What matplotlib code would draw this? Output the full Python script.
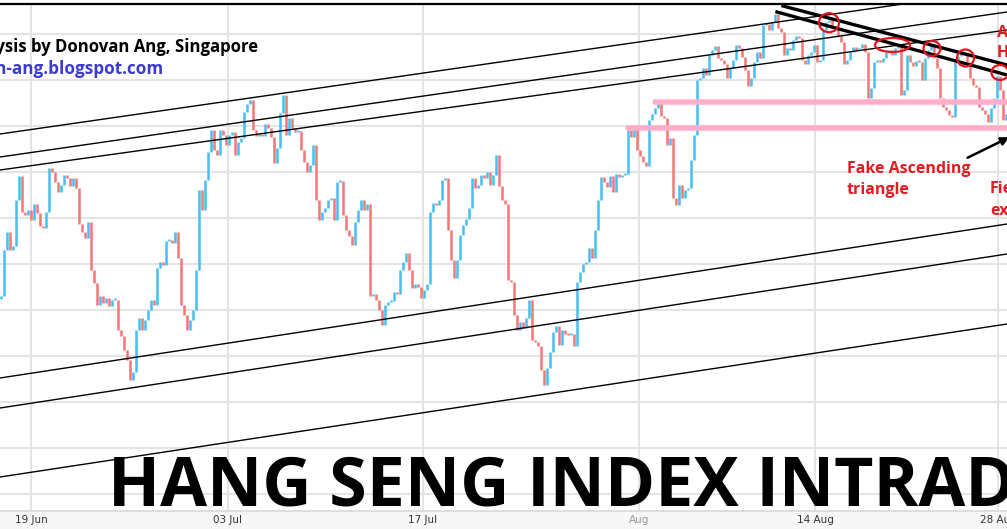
import matplotlib
matplotlib.use("Agg")
import matplotlib.pyplot as plt
from matplotlib.patches import Ellipse, Rectangle
import numpy as np

# ---------------- data (index level, arbitrary points; bar index on x) -------------
first_open = 221
closes = [
    224, 270, 288, 270, 274, 320, 344, 308, 305, 310, 300, 316,
    307, 294, 292, 308, 352, 348, 338, 328, 335, 345, 342, 334,
    342, 332, 296, 288, 282, 298, 250, 237, 215, 224, 217, 222,
    214, 220, 220, 190, 184, 170, 160, 140, 148, 190, 202, 190,
    200, 210, 220, 215, 252, 258, 255, 279, 280, 277, 288, 262,
    215, 205, 190, 200, 210, 250, 330, 310, 340, 368, 390, 370,
    365, 390, 385, 375, 385, 388, 365, 378, 382, 408, 416, 420,
    390, 384, 386, 384, 396, 392, 383, 357, 372, 407, 425, 385,
    402, 392, 388, 389, 370, 358, 348, 355, 375, 320, 300, 308,
    312, 320, 322, 300, 338, 339, 305, 290, 284, 275, 298, 310,
    320, 310, 316, 224, 226, 220, 210, 195, 215, 218, 219, 228,
    226, 250, 258, 267, 250, 232, 236, 233, 222, 230, 236, 308,
    317, 315, 320, 340, 342, 290, 260, 242, 260, 285, 295, 301,
    312, 342, 332, 335, 345, 342, 348, 335, 345, 365, 334, 320,
    316, 240, 238, 205, 190, 198, 192, 202, 220, 180, 178, 174,
    150, 135, 152, 168, 188, 194, 175, 190, 186, 185, 186, 174,
    238, 248, 256, 258, 272, 262, 290, 320, 343, 338, 333, 344,
    328, 346, 343, 345, 346, 390, 383, 393, 370, 364, 358, 354,
    400, 406, 412, 417, 404, 402, 375, 382, 322, 315, 335, 322,
    330, 332, 360, 385, 440, 442, 452, 445, 465, 470, 474, 462,
    460, 456, 442, 452, 460, 475, 472, 463, 450, 434, 442, 458,
    468, 462, 495, 496, 490, 498, 506, 492, 488, 465, 472, 470,
    480, 484, 482, 460, 456, 465, 468, 475, 458, 460, 490, 498,
    500, 494, 492, 484, 478, 456, 460, 468, 473, 470, 472, 476,
    468, 422, 432, 458, 460, 458, 462, 468, 470, 465, 472, 476,
    425, 430, 465, 458, 454, 459, 458, 440, 462, 470, 474, 462,
    452, 422, 413, 410, 405, 403, 460, 464, 468, 465, 458, 442,
    435, 433, 413, 410, 406, 398, 412, 422, 444, 430, 400, 406,
]

tick_pos = [9.83, 75.5, 140.5, 212.5, 271.17, 332.17]
tick_labels = ["19 Jun", "03 Jul", "17 Jul", "Aug", "14 Aug", "28 Aug"]
grid_levels = [486, 440, 394, 348, 302, 256, 210, 164, 118, 72, 26]

# analyst drawings: (x0, y0, x1, y1)
channel_lines = [
    (-0.5, 386, 335.17, 531),
    (-0.5, 363, 335.17, 508),
    (-0.5, 350, 335.17, 490),
    (-0.5, 142, 335.17, 296),
    (-0.5, 112, 335.17, 266),
    (-0.5, 43, 335.17, 196),
]
down_lines = [
    (260.5, 514, 335.17, 455),
    (258.5, 508, 335.17, 445),
]
pink_lines = [
    (217.83, 418, 335.17, 418),
    (208.83, 392, 335.17, 392),
]
circles = [  # cx, cy, w, h
    (275.83, 497.3, 6.67, 19),
    (297.0, 475.0, 11.67, 14),
    (310.17, 471.5, 5.67, 15),
    (321.33, 462.0, 5.67, 17),
    (332.83, 447.5, 5.67, 15),
]
arrow = (321.17, 361, 336.8, 384)

# ---------------- figure ----------------
W, H = 1007, 529
fig = plt.figure(figsize=(W / 100, H / 100), dpi=100)
fig.patch.set_facecolor("white")
fig.add_artist(Rectangle((0, 0), 1, 18 / H, transform=fig.transFigure,
                         facecolor="#f7f7f7", edgecolor="none", zorder=0))

ax = fig.add_axes([0, 18 / H, 1, (511 - 4) / H])
ax.set_facecolor("white")
ax.set_xlim(-0.5, 335.17)
ax.set_ylim(9, 516)

ax.set_yticks(grid_levels)
ax.set_yticklabels([])
ax.set_xticks(tick_pos)
ax.set_xticklabels(tick_labels)
ax.tick_params(axis="both", length=0)
ax.tick_params(axis="x", pad=3, labelsize=7.5, labelcolor="#333333")
for lbl in ax.get_xticklabels():
    if lbl.get_text() == "Aug":
        lbl.set_color("#999999")
ax.grid(True, color="#e4e4e4", linewidth=1.4, zorder=0)
ax.set_axisbelow(True)
for s in ["left", "right"]:
    ax.spines[s].set_visible(False)
ax.spines["top"].set_color("black")
ax.spines["top"].set_linewidth(1.6)
ax.spines["bottom"].set_color("#d8d8d8")
ax.spines["bottom"].set_linewidth(1.2)

x = np.arange(len(closes))
c = np.array(closes, dtype=float)
o = np.concatenate([[first_open], c[:-1]])
lo = np.minimum(o, c)
hi = np.maximum(o, c)
hi = np.where(hi - lo < 2, lo + 2, hi)
cols = np.where(c >= o, "#45bff3", "#f27777")
ax.vlines(x, lo, hi, colors=cols, linewidth=1.8, zorder=2)

for (x0, y0, x1, y1) in channel_lines:
    ax.plot([x0, x1], [y0, y1], color="black", linewidth=1.0, zorder=3)
for (x0, y0, x1, y1) in down_lines:
    ax.plot([x0, x1], [y0, y1], color="black", linewidth=2.4, zorder=3)
for (x0, y0, x1, y1) in pink_lines:
    ax.plot([x0, x1], [y0, y1], color="#ffaecb", linewidth=4.0,
            solid_capstyle="round", zorder=4)
for (cx, cy, w, h) in circles:
    ax.add_patch(Ellipse((cx, cy), w, h, facecolor="none", edgecolor="#e3131b",
                         linewidth=1.6, zorder=5))
ax.annotate("", xy=(arrow[2], arrow[3]), xytext=(arrow[0], arrow[1]),
            arrowprops=dict(arrowstyle="-|>", color="black", lw=1.8,
                            mutation_scale=12),
            annotation_clip=False, zorder=5)

FONT = ["Open Sans", "DejaVu Sans"]
def ftext(px, py, s, **kw):
    fig.text(px / W, 1 - py / H, s, family=FONT, fontweight="bold", **kw)

ftext(258, 47, "Technical Analysis by Donovan Ang, Singapore", ha="right",
      va="center", fontsize=12.05, color="black", zorder=6)
ftext(163, 69, "donovan-ang.blogspot.com", ha="right", va="center",
      fontsize=12.3, color="#3b3bcf", zorder=6)
ftext(108, 505, "HANG SENG INDEX INTRADAY", ha="left", va="baseline",
      fontsize=49, color="black", zorder=6)
ftext(847, 173, "Fake Ascending", ha="left", va="baseline", fontsize=11.5,
      color="#e51b23", zorder=6)
ftext(847, 194, "triangle", ha="left", va="baseline", fontsize=11.5,
      color="#e51b23", zorder=6)
ftext(990, 193, "Fierce", ha="left", va="baseline", fontsize=11.5,
      color="#e51b23", zorder=6)
ftext(990, 215, "exit", ha="left", va="baseline", fontsize=11.5,
      color="#e51b23", zorder=6)
ftext(997, 37, "Ascending", ha="left", va="baseline", fontsize=11.5,
      color="#e51b23", zorder=6)
ftext(997, 57, "Highs", ha="left", va="baseline", fontsize=11.5,
      color="#e51b23", zorder=6)

fig.savefig("out.png", dpi=100)
